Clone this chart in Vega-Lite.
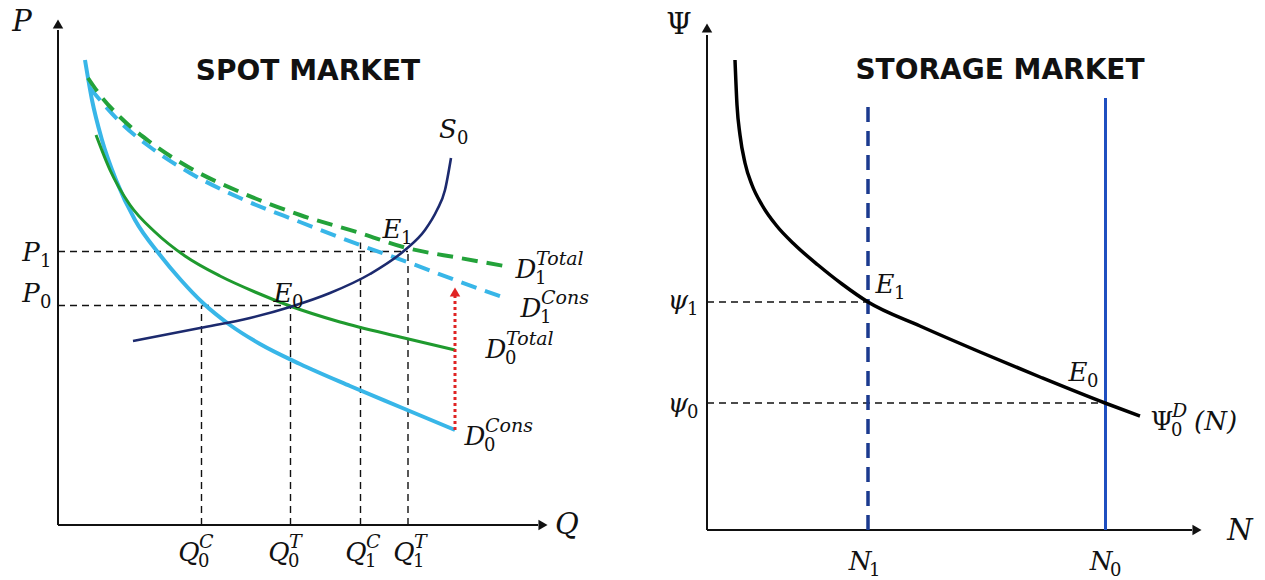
{
  "$schema": "https://vega.github.io/schema/vega-lite/v6.json",
  "padding": 0,
  "spacing": 5,
  "background": "white",
  "config": {"view": {"stroke": null}, "font": "DejaVu Sans"},
  "datasets": {
    "spot_curves": [
      {"curve": "S0", "q": 15, "p": 36.8}, {"curve": "S0", "q": 28.4, "p": 39.4}, {"curve": "S0", "q": 38.4, "p": 41.4}, {"curve": "S0", "q": 46.4, "p": 43.6}, {"curve": "S0", "q": 54.4, "p": 46.4}, {"curve": "S0", "q": 62.4, "p": 50.2}, {"curve": "S0", "q": 69.4, "p": 55}, {"curve": "S0", "q": 73.4, "p": 59}, {"curve": "S0", "q": 75.8, "p": 63}, {"curve": "S0", "q": 77.4, "p": 67}, {"curve": "S0", "q": 78.6, "p": 73.4},
      {"curve": "D0 Cons", "q": 5.4, "p": 93}, {"curve": "D0 Cons", "q": 6.8, "p": 85}, {"curve": "D0 Cons", "q": 8.8, "p": 77}, {"curve": "D0 Cons", "q": 11.6, "p": 69}, {"curve": "D0 Cons", "q": 15.4, "p": 61}, {"curve": "D0 Cons", "q": 20.4, "p": 54}, {"curve": "D0 Cons", "q": 24.4, "p": 49.2}, {"curve": "D0 Cons", "q": 29, "p": 44.4}, {"curve": "D0 Cons", "q": 34.4, "p": 40}, {"curve": "D0 Cons", "q": 40.4, "p": 36.2}, {"curve": "D0 Cons", "q": 48.4, "p": 32.2}, {"curve": "D0 Cons", "q": 58.4, "p": 27.8}, {"curve": "D0 Cons", "q": 68.4, "p": 23.6}, {"curve": "D0 Cons", "q": 79.4, "p": 19},
      {"curve": "D0 Total", "q": 7.6, "p": 78}, {"curve": "D0 Total", "q": 10.4, "p": 71}, {"curve": "D0 Total", "q": 14.4, "p": 64}, {"curve": "D0 Total", "q": 19.4, "p": 58.6}, {"curve": "D0 Total", "q": 25.4, "p": 53.8}, {"curve": "D0 Total", "q": 32.4, "p": 49.8}, {"curve": "D0 Total", "q": 39.4, "p": 46.6}, {"curve": "D0 Total", "q": 46.4, "p": 43.8}, {"curve": "D0 Total", "q": 56.4, "p": 40.6}, {"curve": "D0 Total", "q": 68.4, "p": 37.6}, {"curve": "D0 Total", "q": 79.4, "p": 35},
      {"curve": "D1 Total", "q": 6, "p": 89.4}, {"curve": "D1 Total", "q": 8.4, "p": 86}, {"curve": "D1 Total", "q": 12.4, "p": 81.6}, {"curve": "D1 Total", "q": 18.4, "p": 76.6}, {"curve": "D1 Total", "q": 26.4, "p": 71.4}, {"curve": "D1 Total", "q": 36.4, "p": 66.6}, {"curve": "D1 Total", "q": 48.4, "p": 62}, {"curve": "D1 Total", "q": 60.4, "p": 58.4}, {"curve": "D1 Total", "q": 69.8, "p": 55.4}, {"curve": "D1 Total", "q": 80.4, "p": 53.4}, {"curve": "D1 Total", "q": 90.4, "p": 51.6},
      {"curve": "D1 Cons", "q": 6.4, "p": 87.4}, {"curve": "D1 Cons", "q": 8.4, "p": 85}, {"curve": "D1 Cons", "q": 12.4, "p": 80.6}, {"curve": "D1 Cons", "q": 18.4, "p": 75.6}, {"curve": "D1 Cons", "q": 26.4, "p": 70.4}, {"curve": "D1 Cons", "q": 36.4, "p": 65.4}, {"curve": "D1 Cons", "q": 48.4, "p": 60.6}, {"curve": "D1 Cons", "q": 60.4, "p": 56}, {"curve": "D1 Cons", "q": 70.4, "p": 52.4}, {"curve": "D1 Cons", "q": 79.4, "p": 49}, {"curve": "D1 Cons", "q": 89.4, "p": 45.4}
    ],
    "spot_guides": [
      {"q": 0, "p": 54.7, "q2": 70, "p2": 54.7},
      {"q": 0, "p": 43.9, "q2": 46.5, "p2": 43.9},
      {"q": 28.7, "p": 0, "q2": 28.7, "p2": 43.9},
      {"q": 46.5, "p": 0, "q2": 46.5, "p2": 43.9},
      {"q": 60.5, "p": 0, "q2": 60.5, "p2": 56.5},
      {"q": 70, "p": 0, "q2": 70, "p2": 54.7}
    ],
    "spot_axes": [
      {"q": 0, "p": 0, "q2": 0, "p2": 99},
      {"q": 0, "p": 0, "q2": 96, "p2": 0}
    ],
    "spot_arrows": [
      {"q": 0, "p": 100.2, "dir": "up"},
      {"q": 97, "p": 0, "dir": "right"}
    ],
    "spot_shift": [{"q": 79.4, "p": 19, "q2": 79.4, "p2": 46}],
    "spot_shift_head": [{"q": 79.4, "p": 46.6}],
    "spot_labels": [
      {"main": "D", "sub": "1", "sup": "Total", "q": 93.6, "p": 51},
      {"main": "D", "sub": "1", "sup": "Cons", "q": 94.6, "p": 43.2},
      {"main": "D", "sub": "0", "sup": "Total", "q": 87.6, "p": 35},
      {"main": "D", "sub": "0", "sup": "Cons", "q": 83.4, "p": 17.6},
      {"main": "Q", "sub": "0", "sup": "C", "q": 26.2, "p": -5.6},
      {"main": "Q", "sub": "0", "sup": "T", "q": 44.2, "p": -5.6},
      {"main": "Q", "sub": "1", "sup": "C", "q": 59.6, "p": -5.6},
      {"main": "Q", "sub": "1", "sup": "T", "q": 69.2, "p": -5.6},
      {"main": "S", "sub": "0", "q": 78, "p": 79.1},
      {"main": "E", "sub": "1", "q": 66.8, "p": 59},
      {"main": "E", "sub": "0", "q": 45, "p": 46.2},
      {"main": "P", "sub": "1", "q": -5.4, "p": 54.4},
      {"main": "P", "sub": "0", "q": -5.4, "p": 46.2}
    ],
    "spot_axis_titles": [
      {"text": "P", "q": -7.2, "p": 100.6},
      {"text": "Q", "q": 101.8, "p": 0}
    ],
    "spot_heading": [{"text": "SPOT MARKET", "q": 50, "p": 90.6}],
    "storage_curve": [
      {"n": 5.6, "psi": 94}, {"n": 6, "psi": 85}, {"n": 6.6, "psi": 79}, {"n": 7.6, "psi": 73.4}, {"n": 9, "psi": 69}, {"n": 11, "psi": 65}, {"n": 13.8, "psi": 61}, {"n": 17.6, "psi": 57}, {"n": 22.2, "psi": 53}, {"n": 27, "psi": 49.2}, {"n": 32.2, "psi": 45.6}, {"n": 42.6, "psi": 40.8}, {"n": 54.6, "psi": 35.6}, {"n": 66.6, "psi": 30.6}, {"n": 79.6, "psi": 25.4}, {"n": 86.6, "psi": 22.8}
    ],
    "storage_guides": [
      {"n": 0, "psi": 45.6, "n2": 32.2, "psi2": 45.6},
      {"n": 0, "psi": 25.4, "n2": 79.7, "psi2": 25.4}
    ],
    "storage_stocks": [
      {"stock": "N1", "n": 32.2, "psi": 0, "n2": 32.2, "psi2": 86.4},
      {"stock": "N0", "n": 79.7, "psi": 0, "n2": 79.7, "psi2": 86.4}
    ],
    "storage_axes": [
      {"n": 0, "psi": 0, "n2": 0, "psi2": 99},
      {"n": 0, "psi": 0, "n2": 97, "psi2": 0}
    ],
    "storage_arrows": [
      {"n": 0, "psi": 100.4, "dir": "up"},
      {"n": 98, "psi": 0, "dir": "right"}
    ],
    "storage_labels": [
      {"main": "Ψ", "sub": "0", "sup": "D", "tail": "(N)", "n": 91, "psi": 21.6},
      {"main": "ψ", "sub": "1", "n": -5.8, "psi": 45.8},
      {"main": "ψ", "sub": "0", "n": -5.8, "psi": 25.2},
      {"main": "N", "sub": "1", "n": 30.6, "psi": -6.4},
      {"main": "N", "sub": "0", "n": 78.8, "psi": -6.4},
      {"main": "E", "sub": "1", "n": 35.6, "psi": 49},
      {"main": "E", "sub": "0", "n": 74.2, "psi": 31.4}
    ],
    "storage_axis_titles": [
      {"text": "Ψ", "n": -5.6, "psi": 101},
      {"text": "N", "n": 106.6, "psi": -0.2}
    ],
    "storage_heading": [{"text": "STORAGE MARKET", "n": 58.6, "psi": 91.8}]
  },
  "hconcat": [
    {
      "width": 630,
      "height": 580,
      "encoding": {
        "x": {"field": "q", "type": "quantitative", "scale": {"domain": [-11.6, 114.4], "nice": false, "zero": false}, "axis": null},
        "y": {"field": "p", "type": "quantitative", "scale": {"domain": [-11, 105], "nice": false, "zero": false}, "axis": null}
      },
      "layer": [
        {"data": {"name": "spot_guides"}, "mark": {"type": "rule", "color": "#111111", "strokeWidth": 1.4, "strokeDash": [7, 5]}, "encoding": {"x2": {"field": "q2"}, "y2": {"field": "p2"}}},
        {"data": {"name": "spot_axes"}, "mark": {"type": "rule", "color": "#111111", "strokeWidth": 2}, "encoding": {"x2": {"field": "q2"}, "y2": {"field": "p2"}}},
        {"data": {"name": "spot_arrows"}, "mark": {"type": "point", "filled": true, "color": "#111111", "opacity": 1, "size": 110}, "encoding": {"shape": {"field": "dir", "type": "nominal", "scale": {"domain": ["up", "right"], "range": ["triangle-up", "triangle-right"]}, "legend": null}}},
        {"data": {"name": "spot_curves"}, "transform": [{"filter": "datum.curve === 'D0 Cons'"}], "mark": {"type": "line", "color": "#38b6e8", "strokeWidth": 4, "interpolate": "monotone"}, "encoding": {}},
        {"data": {"name": "spot_curves"}, "transform": [{"filter": "datum.curve === 'D0 Total'"}], "mark": {"type": "line", "color": "#1f9a2e", "strokeWidth": 3, "interpolate": "monotone"}, "encoding": {}},
        {"data": {"name": "spot_curves"}, "transform": [{"filter": "datum.curve === 'D1 Cons'"}], "mark": {"type": "line", "color": "#38b6e8", "strokeWidth": 4, "strokeDash": [16, 9], "interpolate": "monotone"}, "encoding": {}},
        {"data": {"name": "spot_curves"}, "transform": [{"filter": "datum.curve === 'D1 Total'"}], "mark": {"type": "line", "color": "#23a23a", "strokeWidth": 4, "strokeDash": [16, 9], "interpolate": "monotone"}, "encoding": {}},
        {"data": {"name": "spot_curves"}, "transform": [{"filter": "datum.curve === 'S0'"}], "mark": {"type": "line", "color": "#1c2a6e", "strokeWidth": 2.6, "interpolate": "monotone"}, "encoding": {}},
        {"data": {"name": "spot_shift"}, "mark": {"type": "rule", "color": "#e02424", "strokeWidth": 3, "strokeDash": [3, 3]}, "encoding": {"x2": {"field": "q2"}, "y2": {"field": "p2"}}},
        {"data": {"name": "spot_shift_head"}, "mark": {"type": "point", "filled": true, "color": "#e02424", "opacity": 1, "size": 110, "shape": "triangle-up"}},
        {"data": {"name": "spot_labels"}, "mark": {"type": "text", "font": "DejaVu Serif", "fontStyle": "italic", "fontSize": 26, "color": "#111111", "align": "center", "baseline": "middle"}, "encoding": {"text": {"field": "main"}}},
        {"data": {"name": "spot_labels"}, "transform": [{"filter": "datum.sub != null"}], "mark": {"type": "text", "font": "DejaVu Serif", "fontSize": 18, "color": "#111111", "align": "left", "baseline": "middle", "dx": 9, "dy": 9}, "encoding": {"text": {"field": "sub"}}},
        {"data": {"name": "spot_labels"}, "transform": [{"filter": "datum.sup != null"}], "mark": {"type": "text", "font": "DejaVu Serif", "fontStyle": "italic", "fontSize": 19, "color": "#111111", "align": "left", "baseline": "middle", "dx": 10, "dy": -11}, "encoding": {"text": {"field": "sup"}}},
        {"data": {"name": "spot_axis_titles"}, "mark": {"type": "text", "font": "DejaVu Serif", "fontStyle": "italic", "fontSize": 29, "color": "#111111", "align": "center", "baseline": "middle"}, "encoding": {"text": {"field": "text"}}},
        {"data": {"name": "spot_heading"}, "mark": {"type": "text", "font": "DejaVu Sans", "fontWeight": "bold", "fontSize": 28, "color": "#111111", "align": "center", "baseline": "middle"}, "encoding": {"text": {"field": "text"}}}
      ]
    },
    {
      "width": 630,
      "height": 580,
      "encoding": {
        "x": {"field": "n", "type": "quantitative", "scale": {"domain": [-14.4, 111.6], "nice": false, "zero": false}, "axis": null},
        "y": {"field": "psi", "type": "quantitative", "scale": {"domain": [-10, 106], "nice": false, "zero": false}, "axis": null}
      },
      "layer": [
        {"data": {"name": "storage_guides"}, "mark": {"type": "rule", "color": "#111111", "strokeWidth": 1.4, "strokeDash": [7, 5]}, "encoding": {"x2": {"field": "n2"}, "y2": {"field": "psi2"}}},
        {"data": {"name": "storage_axes"}, "mark": {"type": "rule", "color": "#111111", "strokeWidth": 2}, "encoding": {"x2": {"field": "n2"}, "y2": {"field": "psi2"}}},
        {"data": {"name": "storage_arrows"}, "mark": {"type": "point", "filled": true, "color": "#111111", "opacity": 1, "size": 110}, "encoding": {"shape": {"field": "dir", "type": "nominal", "scale": {"domain": ["up", "right"], "range": ["triangle-up", "triangle-right"]}, "legend": null}}},
        {"data": {"name": "storage_stocks"}, "transform": [{"filter": "datum.stock === 'N1'"}], "mark": {"type": "rule", "color": "#1b3a8f", "strokeWidth": 3.5, "strokeDash": [15, 9]}, "encoding": {"x2": {"field": "n2"}, "y2": {"field": "psi2"}}},
        {"data": {"name": "storage_stocks"}, "transform": [{"filter": "datum.stock === 'N0'"}], "mark": {"type": "rule", "color": "#1f4fc0", "strokeWidth": 3}, "encoding": {"x2": {"field": "n2"}, "y2": {"field": "psi2"}}},
        {"data": {"name": "storage_curve"}, "mark": {"type": "line", "color": "#000000", "strokeWidth": 3.5, "interpolate": "monotone"}, "encoding": {}},
        {"data": {"name": "storage_labels"}, "transform": [{"filter": "datum.main !== 'Ψ'"}], "mark": {"type": "text", "font": "DejaVu Serif", "fontStyle": "italic", "fontSize": 26, "color": "#111111", "align": "center", "baseline": "middle"}, "encoding": {"text": {"field": "main"}}},
        {"data": {"name": "storage_labels"}, "transform": [{"filter": "datum.main === 'Ψ'"}], "mark": {"type": "text", "font": "DejaVu Serif", "fontSize": 26, "color": "#111111", "align": "center", "baseline": "middle"}, "encoding": {"text": {"field": "main"}}},
        {"data": {"name": "storage_labels"}, "transform": [{"filter": "datum.sub != null"}], "mark": {"type": "text", "font": "DejaVu Serif", "fontSize": 18, "color": "#111111", "align": "left", "baseline": "middle", "dx": 9, "dy": 9}, "encoding": {"text": {"field": "sub"}}},
        {"data": {"name": "storage_labels"}, "transform": [{"filter": "datum.sup != null"}], "mark": {"type": "text", "font": "DejaVu Serif", "fontStyle": "italic", "fontSize": 19, "color": "#111111", "align": "left", "baseline": "middle", "dx": 10, "dy": -11}, "encoding": {"text": {"field": "sup"}}},
        {"data": {"name": "storage_labels"}, "transform": [{"filter": "datum.tail != null"}], "mark": {"type": "text", "font": "DejaVu Serif", "fontStyle": "italic", "fontSize": 26, "color": "#111111", "align": "left", "baseline": "middle", "dx": 32}, "encoding": {"text": {"field": "tail"}}},
        {"data": {"name": "storage_axis_titles"}, "transform": [{"filter": "datum.text === 'Ψ'"}], "mark": {"type": "text", "font": "DejaVu Serif", "fontSize": 29, "color": "#111111", "align": "center", "baseline": "middle"}, "encoding": {"text": {"field": "text"}}},
        {"data": {"name": "storage_axis_titles"}, "transform": [{"filter": "datum.text !== 'Ψ'"}], "mark": {"type": "text", "font": "DejaVu Serif", "fontStyle": "italic", "fontSize": 29, "color": "#111111", "align": "center", "baseline": "middle"}, "encoding": {"text": {"field": "text"}}},
        {"data": {"name": "storage_heading"}, "mark": {"type": "text", "font": "DejaVu Sans", "fontWeight": "bold", "fontSize": 28, "color": "#111111", "align": "center", "baseline": "middle"}, "encoding": {"text": {"field": "text"}}}
      ]
    }
  ]
}
